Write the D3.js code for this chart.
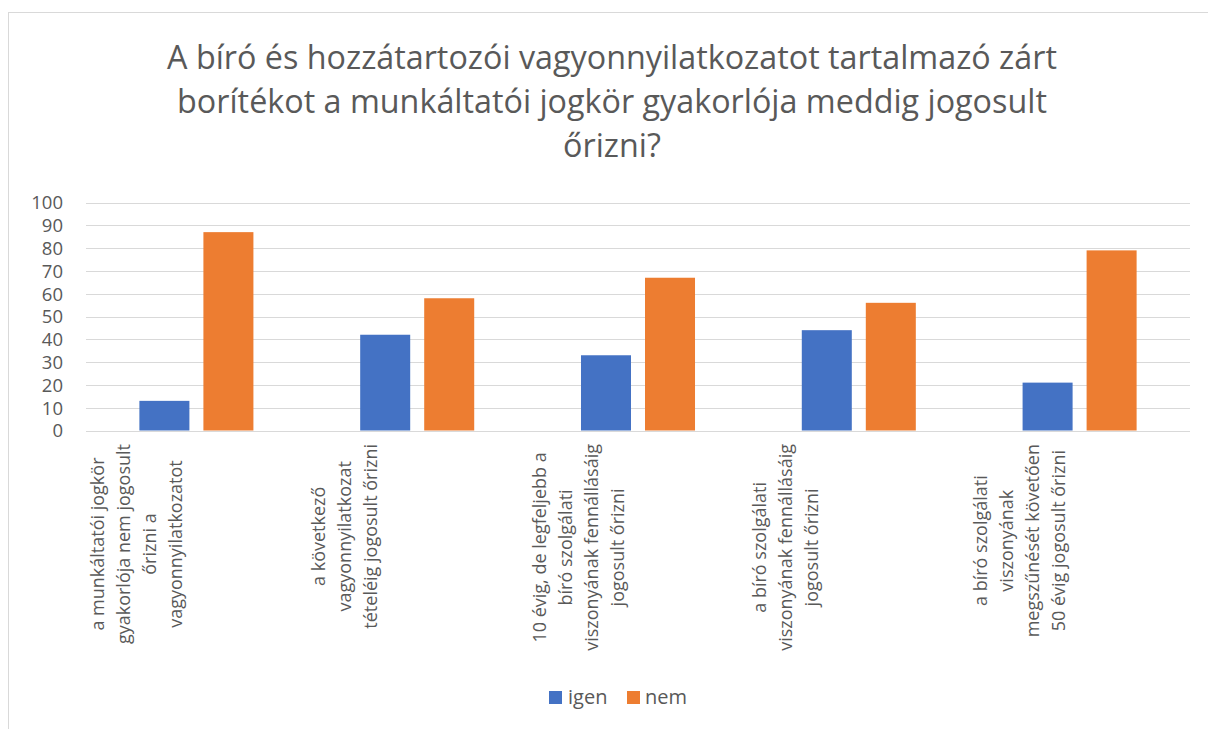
<!DOCTYPE html>
<html><head><meta charset="utf-8">
<script src="https://cdn.jsdelivr.net/npm/d3@7"></script>
<style>body{margin:0;background:#fff}svg{display:block;font-family:"Open Sans",sans-serif}</style>
</head><body><svg id="c" width="1208" height="729"></svg>
<script>
const titleLines = ["A bíró és hozzátartozói vagyonnyilatkozatot tartalmazó zárt","borítékot a munkáltatói jogkör gyakorlója meddig jogosult","őrizni?"];
const categories = ["c1","c2","c3","c4","c5"];
const categoryLabels = [
  ["a munkáltatói jogkör","gyakorlója nem jogosult","őrizni a","vagyonnyilatkozatot"],
  ["a következő","vagyonnyilatkozat","tételéig jogosult őrizni"],
  ["10 évig, de legfeljebb a","bíró szolgálati","viszonyának fennállásáig","jogosult őrizni"],
  ["a bíró szolgálati","viszonyának fennállásáig","jogosult őrizni"],
  ["a bíró szolgálati","viszonyának","megszűnését követően","50 évig jogosult őrizni"]
];
const seriesNames = ["igen","nem"];
const igen = [13,42,33,44,21];
const nem = [87,58,67,56,79];
const yTicks = [0,10,20,30,40,50,60,70,80,90,100];
const colors = {igen:"#4472c4", nem:"#ed7d31"};

const svg = d3.select("#c");
svg.append("rect").attr("x",8.5).attr("y",12.5).attr("width",1260).attr("height",800)
  .attr("fill","#fff").attr("stroke","#d9d9d9").attr("stroke-width",1);

const title = svg.append("text").attr("fill","#595959").attr("font-size",32.3).attr("text-anchor","middle");
titleLines.forEach((t,i)=>title.append("tspan").attr("x",612).attr("y",69+i*44).text(t));

const L=86,R=1190,T=202.5,B=430.5;
const x0 = d3.scaleBand().domain(categories).range([L,R]).padding(0);
const x1 = d3.scaleBand().domain(seriesNames).range([0,x0.bandwidth()]).paddingInner(0.21875).paddingOuter(0.834);
const y = d3.scaleLinear().domain([0,100]).range([B,T]);

const grid = svg.append("g");
grid.selectAll("line").data(yTicks).join("line")
  .attr("x1",L).attr("x2",R).attr("y1",d=>Math.round(y(d))+0.5).attr("y2",d=>Math.round(y(d))+0.5)
  .attr("stroke","#d9d9d9").attr("stroke-width",1);

const yAxis = svg.append("g").attr("transform",`translate(${L-23},0)`)
  .call(d3.axisLeft(y).tickValues(yTicks).tickSize(0).tickPadding(0));
yAxis.select(".domain").remove();
yAxis.selectAll("text").attr("font-size",18.5).attr("fill","#595959").attr("font-family","'Open Sans',sans-serif").attr("dy","0.35em");

const data = categories.map((c,i)=>({c, vals:[{k:"igen",v:igen[i]},{k:"nem",v:nem[i]}]}));
const groups = svg.append("g").selectAll("g").data(data).join("g").attr("transform",d=>`translate(${x0(d.c)},0)`);
groups.selectAll("rect").data(d=>d.vals).join("rect")
  .attr("x",d=>x1(d.k)).attr("width",x1.bandwidth())
  .attr("y",d=>y(d.v)).attr("height",d=>y(0)-y(d.v)).attr("fill",d=>colors[d.k]);

// category labels, rotated
const labTop = 444, lineH = 26, fs = 18;
categories.forEach((c,i)=>{
  const lines = categoryLabels[i];
  const g = svg.append("g");
  const texts = lines.map((t,j)=>g.append("text").attr("font-size",fs).attr("fill","#595959").attr("text-anchor","middle").text(t));
  const maxL = d3.max(texts, t=>t.node().getComputedTextLength());
  const cy = labTop + maxL/2;
  texts.forEach((t,j)=>{
    const cx = x0(c) + 18 + j*lineH;
    t.attr("transform",`translate(${cx},${cy}) rotate(-90)`);
  });
});

// legend
const leg = svg.append("g");
[["igen",549,568],["nem",627,645]].forEach(([k,sx,tx])=>{
  leg.append("rect").attr("x",sx).attr("y",691).attr("width",13).attr("height",13).attr("fill",colors[k]);
  leg.append("text").attr("x",tx).attr("y",704).attr("font-size",20).attr("fill","#595959").text(k);
});
</script></body></html>
